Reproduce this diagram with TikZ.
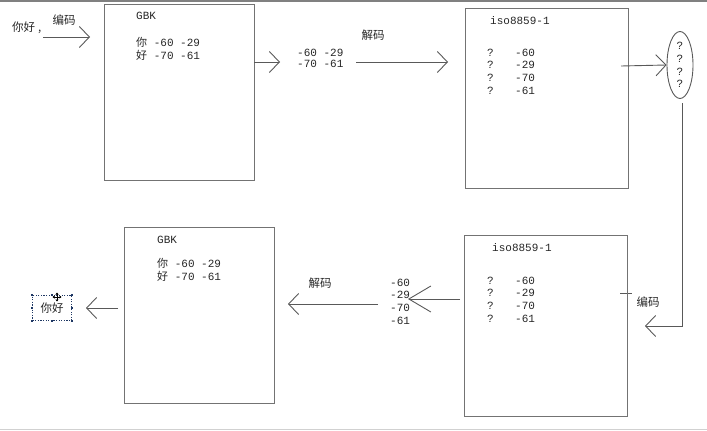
\documentclass[tikz,border=0pt]{standalone}
\usepackage{fontspec}
\setmainfont{Liberation Mono}
\newfontfamily\cjk{Noto Sans CJK SC}
\usepackage{tikz}
\usetikzlibrary{arrows.meta, positioning, shapes.geometric}
\colorlet{colorBox}{black!55}
\colorlet{colorLine}{black!65}
\colorlet{colorText}{black!85}
\definecolor{colorHandle}{RGB}{31,56,100}
\tikzset{
  codebox/.style={draw=colorBox, line width=1.1pt, anchor=north west, inner sep=0pt, minimum width=150pt, minimum height=176pt},
  codetext/.style={text=colorText, font=\fontsize{11}{12.7}\selectfont, inner sep=0pt, anchor=west},
  codecol/.style={codetext, align=left, anchor=north west},
  cjklabel/.style={text=colorText, font=\cjk\fontsize{11.5}{13}\selectfont, inner sep=0pt},
  barb/.style={draw=colorLine, line width=0.9pt, -{Straight Barb[length=10pt, width=21pt]}},
  longbarb/.style={draw=colorLine, line width=0.9pt, -{Straight Barb[length=22pt, width=26pt]}},
  handle/.style={fill=colorHandle, minimum size=1.8pt, inner sep=0pt},
}

\begin{document}
\begin{tikzpicture}[x=1pt, y=-1pt]
\useasboundingbox (0,0) rectangle (707,431);
\draw[black!50, line width=2pt] (0,1) -- (707,1);
\draw[black!18, line width=1pt] (0,429.5) -- (707,429.5);

% top row: encode with GBK
\node[cjklabel, anchor=west] (srcText) at (12,28) {你好\hspace{3pt},};
\node[cjklabel] (encA) at (64,20) {编码};
\coordinate (encAs) at (43,37);
\coordinate (encAe) at (90,37);
\draw[barb] (encAs) -- (encAe);

\node[codebox] (gbkA) at (104,4) {};
\node[codetext] (gbkAtitle) at (136,16) {GBK};
\node[codecol] (gbkAbytes) at (136,37) {{\cjk 你} -60 -29\\{\cjk 好} -70 -61};

\coordinate (gbkAout) at (254,62);
\coordinate (bytesAin) at (280,62);
\draw[barb] (gbkAout) -- (bytesAin);
\node[codecol, font=\fontsize{11}{11.5}\selectfont] (bytesA) at (297,48.5) {-60 -29\\-70 -61};
\node[cjklabel] (decA) at (373,35) {解码};
\coordinate (decAs) at (356,62);
\coordinate (decAe) at (448,62);
\draw[barb] (decAs) -- (decAe);

\node[codebox, minimum width=163pt, minimum height=180pt] (isoA) at (465,8) {};
\node[codetext] (isoAtitle) at (490,21) {iso8859-1};
\node[codecol] (isoAq) at (487,48.5) {?\\?\\?\\?};
\node[codecol] (isoAv) at (515,48.5) {-60\\-29\\-70\\-61};

\node[draw=colorLine, line width=0.9pt, ellipse, inner sep=0pt, minimum width=26pt, minimum height=67pt,
  align=center, text=colorText, font=\fontsize{11}{12.7}\selectfont] (qmarks) at (680,65) {?\\?\\?\\?};
\coordinate (isoAout) at (621,66);
\draw[barb] (isoAout) -- (qmarks.west);

% right side: back down and encode again
\coordinate (bendTop) at (682,103);
\coordinate (bendEnd) at (645,326);
\draw[barb] (bendTop) |- (bendEnd);
\coordinate (tickL) at (620,293);
\coordinate (tickR) at (632,293);
\draw[colorLine, line width=0.9pt] (tickL) -- (tickR);
\node[cjklabel] (encB) at (648,302) {编码};

% bottom row: decode with GBK
\node[codebox, minimum width=163pt, minimum height=181pt] (isoB) at (464,235) {};
\node[codetext] (isoBtitle) at (492,248) {iso8859-1};
\node[codecol] (isoBq) at (487,276.5) {?\\?\\?\\?};
\node[codecol] (isoBv) at (515,276.5) {-60\\-29\\-70\\-61};

\node[codecol] (bytesB) at (390,278.5) {-60\\-29\\-70\\-61};
\coordinate (isoBout) at (460,299);
\coordinate (bytesBin) at (408,299);
\draw[longbarb] (isoBout) -- (bytesBin);
\node[cjklabel] (decB) at (320,283) {解码};
\coordinate (decBs) at (378,304);
\coordinate (decBe) at (288,304);
\draw[barb] (decBs) -- (decBe);

\node[codebox] (gbkB) at (124,227) {};
\node[codetext] (gbkBtitle) at (157,240) {GBK};
\node[codecol] (gbkBbytes) at (157,258) {{\cjk 你} -60 -29\\{\cjk 好} -70 -61};

\coordinate (gbkBout) at (118,308);
\coordinate (resultIn) at (86,308);
\draw[barb] (gbkBout) -- (resultIn);

\node[cjklabel, draw=colorHandle, line width=0.8pt, dash pattern=on 1.2pt off 1.4pt,
  minimum width=39pt, minimum height=25pt] (resultText) at (52,308) {你好};
\foreach \a/\n in {north west/nw, north/n, north east/ne, east/e, south east/se, south/s, south west/sw, west/w}
  \node[handle] (hd\n) at (resultText.\a) {};
\coordinate (cursor) at (57,297);
\foreach \d in {(4.5,0), (-4.5,0), (0,4.5), (0,-4.5)}
  \draw[black, line width=0.9pt, -{Triangle[length=2pt, width=3pt]}] (cursor) -- ++\d;
\end{tikzpicture}
\end{document}
